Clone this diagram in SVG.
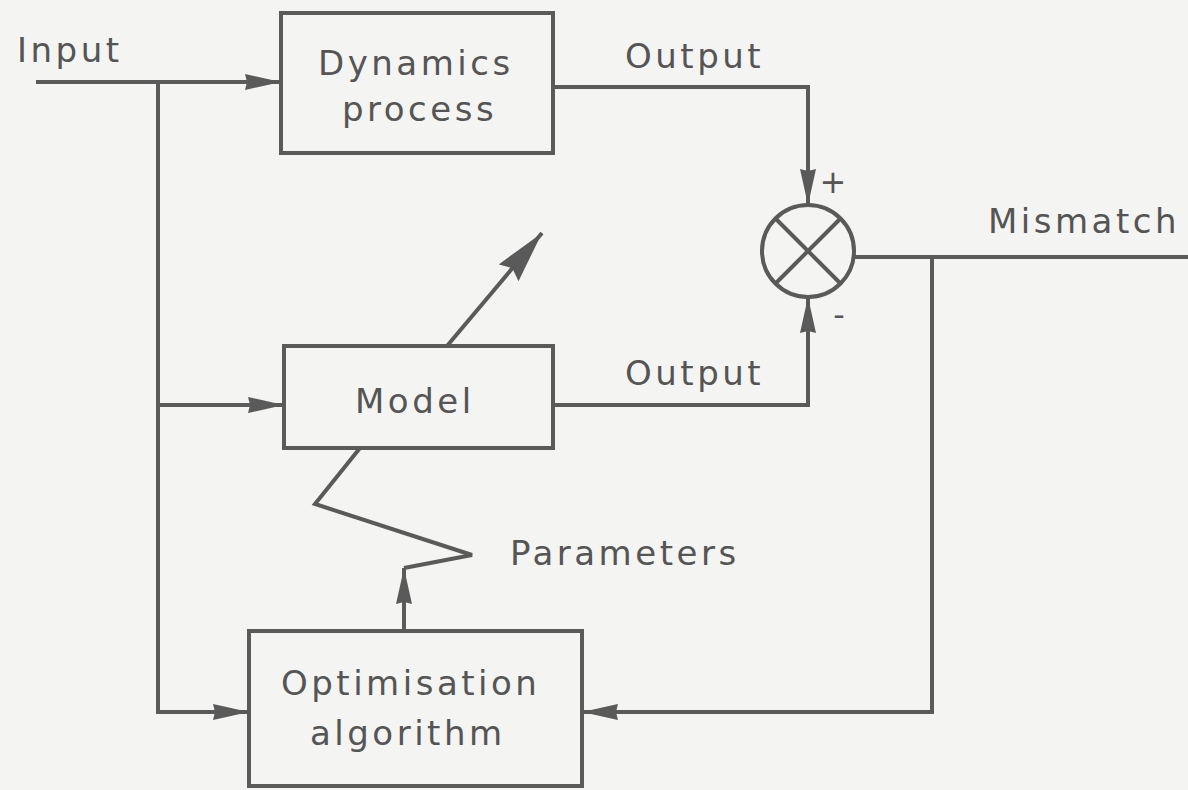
<svg xmlns="http://www.w3.org/2000/svg" width="1188" height="790" viewBox="0 0 1188 790">
<style>
.bg{fill:#f4f4f2}
.box{fill:none;stroke:#5a5a5a;stroke-width:4}
.ln{fill:none;stroke:#5a5a5a;stroke-width:4;stroke-linejoin:miter}
.t{font-family:"DejaVu Sans",sans-serif;font-size:34px;letter-spacing:3.5px;fill:#555}
.s{font-family:"DejaVu Sans",sans-serif;font-size:32px;fill:#555;text-anchor:middle}
</style>
<defs>
<marker id="ah" markerUnits="userSpaceOnUse" markerWidth="40" markerHeight="18" refX="36" refY="8" orient="auto">
<path d="M0,0 L36,8 L0,16 L2,8 Z" fill="#5a5a5a"/>
</marker>
<marker id="big" markerUnits="userSpaceOnUse" markerWidth="56" markerHeight="28" refX="52" refY="13" orient="auto">
<path d="M0,0 L52,13 L0,26 L6,13 Z" fill="#5a5a5a"/>
</marker>
</defs>
<rect class="bg" x="0" y="0" width="1188" height="790"/>
<g id="connectors">
<path class="ln" d="M36,82 H281" marker-end="url(#ah)"/>
<path class="ln" d="M158,82 V712 H249" marker-end="url(#ah)"/>
<path class="ln" d="M158,405 H284" marker-end="url(#ah)"/>
<path class="ln" d="M553,87 H808 V205" marker-end="url(#ah)"/>
<path class="ln" d="M553,405 H808 V297" marker-end="url(#ah)"/>
<path class="ln" d="M855,257 H1188"/>
<path class="ln" d="M932,257 V712 H582" marker-end="url(#ah)"/>
<path class="ln" d="M447,346 L542,233" marker-end="url(#big)"/>
<path class="ln" d="M360,448 L315,504 L472,555 L404,568"/>
<path class="ln" d="M404,631 V568" marker-end="url(#ah)"/>
</g>
<g id="input-label"><text class="t" x="17" y="62">Input</text></g>
<g id="dynamics">
<rect class="box" x="281" y="13" width="272" height="140"/>
<text class="t" x="318" y="75">Dynamics</text>
<text class="t" x="342" y="121">process</text>
</g>
<g id="output1-label"><text class="t" x="625" y="68">Output</text></g>
<g id="sum">
<circle class="box" cx="808" cy="251" r="46"/>
<line class="ln" x1="775.5" y1="218.5" x2="840.5" y2="283.5"/>
<line class="ln" x1="840.5" y1="218.5" x2="775.5" y2="283.5"/>
<text class="s" x="833" y="193">+</text>
<text class="s" x="839" y="326">-</text>
</g>
<g id="mismatch-label"><text class="t" x="988" y="233">Mismatch</text></g>
<g id="model">
<rect class="box" x="284" y="346" width="269" height="102"/>
<text class="t" x="355" y="413">Model</text>
</g>
<g id="output2-label"><text class="t" x="625" y="385">Output</text></g>
<g id="parameters-label"><text class="t" x="510" y="565">Parameters</text></g>
<g id="optimisation">
<rect class="box" x="249" y="631" width="333" height="155"/>
<text class="t" x="281" y="695">Optimisation</text>
<text class="t" x="310" y="745">algorithm</text>
</g>
</svg>
